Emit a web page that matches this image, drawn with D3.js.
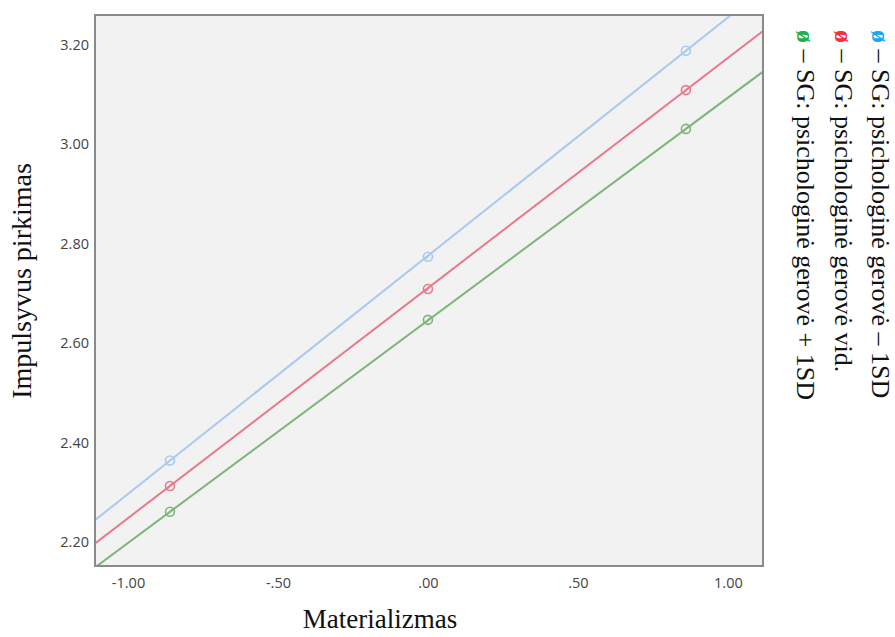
<!DOCTYPE html>
<html>
<head>
<meta charset="utf-8">
<script src="https://cdn.jsdelivr.net/npm/d3@7"></script>
<style>
  body { margin: 0; background: #fff; }
  .tick text { font-family: "Open Sans", "DejaVu Sans", sans-serif; }
</style>
</head>
<body>
<div id="vis"></div>
<script>
// frame size and plot box
const FRAME_WIDTH = 895;
const FRAME_HEIGHT = 637;
const MARGINS = {left: 95, right: 132, top: 15, bottom: 71};
const VIS_WIDTH = FRAME_WIDTH - MARGINS.left - MARGINS.right;
const VIS_HEIGHT = FRAME_HEIGHT - MARGINS.top - MARGINS.bottom;

// data
const xValues = [-0.86, 0.00, 0.86];
const lowSD = [2.364, 2.774, 3.188];   // gerovė - 1SD
const meanSD = [2.313, 2.709, 3.109];  // gerovė vid.
const highSD = [2.261, 2.647, 3.031];  // gerovė + 1SD
const xTicks = [-1, -0.5, 0, 0.5, 1];
const xTickLabels = ["-1.00", "-.50", ".00", ".50", "1.00"];
const yTicks = [2.2, 2.4, 2.6, 2.8, 3.0, 3.2];
const yTickLabels = ["2.20", "2.40", "2.60", "2.80", "3.00", "3.20"];
const seriesNames = ["SG: psichologinė gerovė – 1SD", "SG: psichologinė gerovė vid.", "SG: psichologinė gerovė + 1SD"];

const series = [
  {name: seriesNames[0], values: lowSD, line: "#a9c9f0", mark: "#a9c9f0", legend: "#1aa7ee"},
  {name: seriesNames[1], values: meanSD, line: "#e9788a", mark: "#e9788a", legend: "#f0303c"},
  {name: seriesNames[2], values: highSD, line: "#7db678", mark: "#7db678", legend: "#22b04a"}
];

const svg = d3.select("#vis").append("svg")
  .attr("width", FRAME_WIDTH)
  .attr("height", FRAME_HEIGHT);

const X_SCALE = d3.scaleLinear().domain([-1.11, 1.117]).range([0, VIS_WIDTH]);
const Y_SCALE = d3.scaleLinear().domain([2.152, 3.26]).range([VIS_HEIGHT, 0]);

const g = svg.append("g")
  .attr("transform", "translate(" + MARGINS.left + "," + MARGINS.top + ")");

// plot background
g.append("rect")
  .attr("width", VIS_WIDTH)
  .attr("height", VIS_HEIGHT)
  .attr("fill", "#f2f2f2");

g.append("clipPath").attr("id", "clip")
  .append("rect").attr("width", VIS_WIDTH).attr("height", VIS_HEIGHT);

const plot = g.append("g").attr("clip-path", "url(#clip)");

// fitted lines, extended to the edges of the box
series.forEach((s) => {
  const n = s.values.length - 1;
  const slope = (s.values[n] - s.values[0]) / (xValues[n] - xValues[0]);
  const at = (x) => s.values[0] + slope * (x - xValues[0]);
  const dom = X_SCALE.domain();
  plot.append("line")
    .attr("x1", X_SCALE(dom[0])).attr("y1", Y_SCALE(at(dom[0])))
    .attr("x2", X_SCALE(dom[1])).attr("y2", Y_SCALE(at(dom[1])))
    .attr("stroke", s.line)
    .attr("stroke-width", 2);
});

// point markers: circle with a slash
series.forEach((s) => {
  const pts = plot.selectAll(null)
    .data(s.values.map((v, i) => ({x: xValues[i], y: v})))
    .enter().append("g")
      .attr("transform", (d) => "translate(" + X_SCALE(d.x) + "," + Y_SCALE(d.y) + ")");
  pts.append("circle")
    .attr("r", 4.5)
    .attr("fill", "none")
    .attr("stroke", s.mark)
    .attr("stroke-width", 1.6);
  pts.append("line")
    .attr("x1", -2.5).attr("y1", 2.5).attr("x2", 2.5).attr("y2", -2.5)
    .attr("stroke", s.mark)
    .attr("stroke-width", 1.3);
});

// axes (labels only, no tick marks)
const xAxis = g.append("g")
  .attr("transform", "translate(0," + VIS_HEIGHT + ")")
  .call(d3.axisBottom(X_SCALE).tickValues(xTicks)
    .tickFormat((d, i) => xTickLabels[i]).tickSize(0).tickPadding(12));
xAxis.select(".domain").remove();
xAxis.selectAll("text").attr("font-size", "14.5px").attr("fill", "#444");

const yAxis = g.append("g")
  .call(d3.axisLeft(Y_SCALE).tickValues(yTicks)
    .tickFormat((d, i) => yTickLabels[i]).tickSize(0).tickPadding(6));
yAxis.select(".domain").remove();
yAxis.selectAll("text").attr("font-size", "14.5px").attr("fill", "#444");

// border of the box
g.append("rect")
  .attr("width", VIS_WIDTH)
  .attr("height", VIS_HEIGHT)
  .attr("fill", "none")
  .attr("stroke", "#8a8a8a")
  .attr("stroke-width", 2);

// axis titles
svg.append("text")
  .attr("x", 380)
  .attr("y", 628)
  .attr("text-anchor", "middle")
  .attr("font-family", "Liberation Serif, serif")
  .attr("font-size", "27px")
  .attr("fill", "#111")
  .text("Materializmas");

svg.append("text")
  .attr("transform", "translate(31,281) rotate(-90)")
  .attr("text-anchor", "middle")
  .attr("font-family", "Liberation Serif, serif")
  .attr("font-size", "28px")
  .attr("fill", "#111")
  .text("Impulsyvus pirkimas");

// rotated legend, one column per series
const legendX = [872, 835, 797];
series.forEach((s, i) => {
  const t = svg.append("text")
    .attr("transform", "translate(" + legendX[i] + ",30) rotate(90)")
    .attr("font-family", "Liberation Serif, serif")
    .attr("font-size", "26px")
    .attr("fill", "#111");
  t.append("tspan").attr("fill", s.legend).attr("font-weight", "bold").text("ø");
  t.append("tspan").text(" – " + s.name);
});
</script>
</body>
</html>
